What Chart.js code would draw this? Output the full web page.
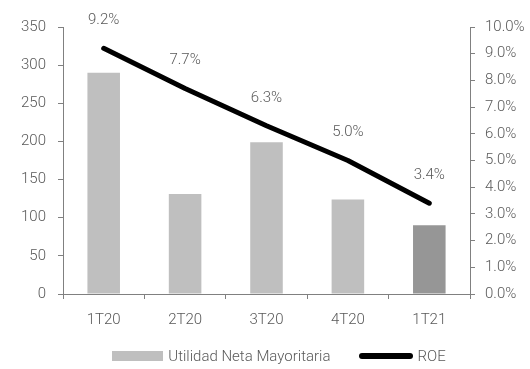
<!DOCTYPE html>
<html>
<head>
<meta charset="utf-8">
<script src="https://cdn.jsdelivr.net/npm/chart.js@4.4.0/dist/chart.umd.min.js"></script>
<style>
  html, body { margin: 0; padding: 0; background: #fff; }
  #wrap { position: relative; width: 530px; height: 369px; }
  #legend {
    position: absolute; left: 14px; top: 347px; width: 530px;
    display: flex; justify-content: center; align-items: center;
    font-family: Roboto, "Liberation Sans", sans-serif; font-weight: 300;
    font-size: 15px; color: #595959;
  }
  .sw-bar { width: 51px; height: 10px; background: #bfbfbf; margin-right: 5px; }
  .sw-line { width: 54px; height: 6px; background: #000; border-radius: 3px; margin-right: 4px; margin-left: 29px; }
</style>
</head>
<body>
<div id="wrap">
  <canvas id="grafico" width="530" height="369"></canvas>
  <div id="legend">
    <span class="sw-bar"></span><span>Utilidad Neta Mayoritaria</span>
    <span class="sw-line"></span><span>ROE</span>
  </div>
</div>
<script>
const trimestres = ["1T20", "2T20", "3T20", "4T20", "1T21"];
const utilidad = [290, 131, 199, 124, 90];
const roe = [0.092, 0.077, 0.063, 0.050, 0.034];
const coloresBarras = ["#bfbfbf", "#bfbfbf", "#bfbfbf", "#bfbfbf", "#969696"];

const gris = "#595959";
const fuente = { family: "Roboto, 'Liberation Sans', sans-serif", size: 15, weight: 300 };

// etiquetas de ROE encima de cada punto de la linea
const etiquetasRoe = {
  id: "etiquetasRoe",
  afterDatasetsDraw(chart) {
    const ctx = chart.ctx;
    const meta = chart.getDatasetMeta(0);
    ctx.save();
    ctx.font = `${fuente.weight} ${fuente.size}px ${fuente.family}`;
    ctx.fillStyle = gris;
    ctx.textAlign = "center";
    ctx.textBaseline = "middle";
    meta.data.forEach((pt, i) => {
      ctx.fillText((roe[i] * 100).toFixed(1) + "%", pt.x, pt.y - 28);
    });
    ctx.restore();
  }
};

new Chart(document.getElementById("grafico"), {
  data: {
    labels: trimestres,
    datasets: [
      {
        type: "line",
        label: "ROE",
        data: roe,
        yAxisID: "y2",
        borderColor: "#000",
        borderWidth: 5,
        borderCapStyle: "round",
        borderJoinStyle: "round",
        pointRadius: 0,
        tension: 0,
        order: 0
      },
      {
        type: "bar",
        label: "Utilidad Neta Mayoritaria",
        data: utilidad,
        yAxisID: "y",
        backgroundColor: coloresBarras,
        categoryPercentage: 1,
        barPercentage: 0.4,
        order: 1
      }
    ]
  },
  options: {
    responsive: false,
    animation: false,
    layout: { padding: { top: 27, bottom: 28, left: 0, right: 0 } },
    plugins: {
      legend: { display: false },
      tooltip: { enabled: false }
    },
    scales: {
      x: {
        grid: { drawOnChartArea: false, drawTicks: true, tickLength: 5, color: "#808080", offset: true },
        border: { color: "#808080", width: 1 },
        ticks: { color: gris, font: fuente, padding: 12 }
      },
      y: {
        position: "left",
        min: 0, max: 350,
        ticks: { stepSize: 50, color: gris, font: fuente, padding: 12 },
        grid: { drawOnChartArea: false, tickLength: 5, color: "#808080" },
        border: { color: "#808080" },
        afterFit: (s) => { s.width = 63; }
      },
      y2: {
        position: "right",
        min: 0, max: 0.1,
        ticks: {
          stepSize: 0.01, color: gris, font: fuente, padding: 10,
          callback: (v) => (v * 100).toFixed(1) + "%"
        },
        grid: { drawOnChartArea: false, tickLength: 5, color: "#808080" },
        border: { color: "#808080" },
        afterFit: (s) => { s.width = 60; }
      }
    }
  },
  plugins: [etiquetasRoe]
});
</script>
</body>
</html>
